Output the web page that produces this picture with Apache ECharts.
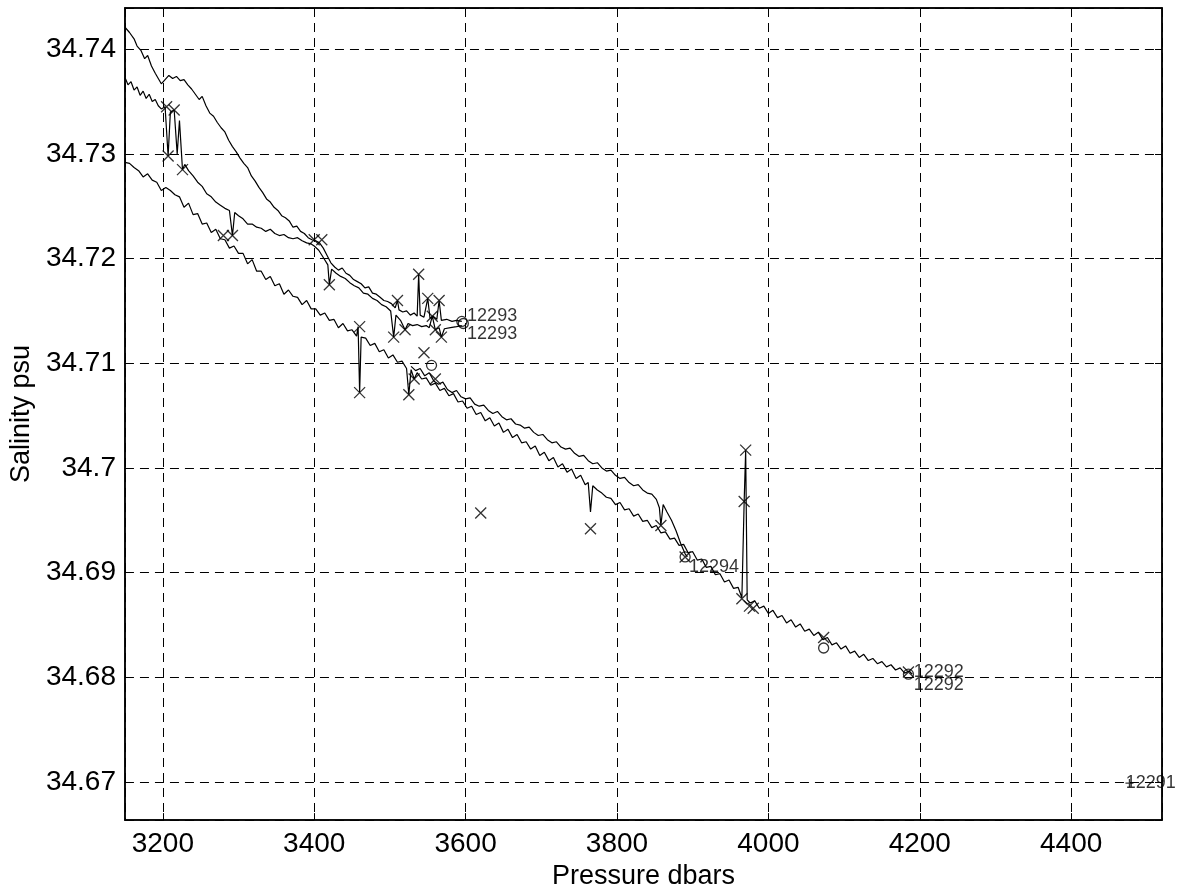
<!DOCTYPE html>
<html>
<head>
<meta charset="utf-8">
<script src="https://cdn.jsdelivr.net/npm/echarts@6/dist/echarts.min.js"></script>
<style>html,body{margin:0;padding:0;background:#fff;}#c{width:1182px;height:895px;}</style>
</head>
<body>
<div id="c"></div>
<script>
// ---- data (pressure dbar, salinity psu) ----
const line12293a = [[3150,34.7421],[3156,34.7416],[3162,34.7410],[3166,34.7403],[3171,34.7399],[3176,34.7391],[3180,34.7394],[3185,34.7384],[3190,34.7377],[3194,34.7372],[3198,34.7367],[3203,34.7371],[3208,34.7375],[3213,34.7372],[3218,34.7374],[3223,34.7370],[3228,34.7371],[3233,34.7366],[3238,34.7362],[3243,34.7357],[3248,34.7352],[3252,34.7355],[3257,34.7346],[3262,34.7339],[3267,34.7336],[3272,34.7330],[3277,34.7325],[3282,34.7321],[3287,34.7313],[3292,34.7307],[3297,34.7302],[3302,34.7296],[3307,34.7291],[3312,34.7287],[3317,34.7279],[3322,34.7274],[3327,34.7268],[3332,34.7263],[3337,34.7257],[3342,34.7254],[3347,34.7249],[3352,34.7246],[3357,34.7241],[3362,34.7239],[3367,34.7236],[3372,34.7230],[3377,34.7231],[3382,34.7226],[3387,34.7224],[3392,34.7220],[3397,34.7218],[3402,34.7217],[3407,34.7215],[3412,34.7210],[3417,34.7203],[3422,34.7196],[3427,34.7192],[3432,34.7189],[3437,34.7191],[3442,34.7186],[3447,34.7184],[3452,34.7180],[3457,34.7178],[3462,34.7176],[3467,34.7172],[3472,34.7173],[3477,34.7167],[3482,34.7166],[3487,34.7163],[3492,34.7160],[3497,34.7159],[3502,34.7157],[3507,34.7153],[3510,34.7160],[3512,34.7151],[3517,34.7149],[3522,34.7150],[3527,34.7146],[3532,34.7148],[3536,34.7145],[3538,34.7185],[3540,34.7146],[3545,34.7144],[3550,34.7162],[3553,34.7143],[3557,34.7145],[3562,34.7142],[3565,34.7160],[3568,34.7141],[3575,34.7142],[3582,34.7140],[3588,34.7141],[3595,34.7140]];
const line12293b = [[3150,34.7373],[3154,34.7366],[3158,34.7369],[3162,34.7361],[3166,34.7364],[3170,34.7356],[3174,34.7360],[3178,34.7353],[3182,34.7357],[3186,34.7350],[3190,34.7352],[3194,34.7346],[3198,34.7343],[3203,34.7345],[3207,34.7298],[3210,34.7340],[3215,34.7342],[3219,34.7300],[3222,34.7332],[3226,34.7285],[3229,34.7290],[3234,34.7284],[3240,34.7279],[3246,34.7273],[3252,34.7269],[3258,34.7262],[3264,34.7259],[3270,34.7254],[3276,34.7251],[3282,34.7248],[3288,34.7246],[3292,34.7222],[3295,34.7244],[3300,34.7241],[3306,34.7238],[3312,34.7233],[3318,34.7233],[3324,34.7230],[3330,34.7229],[3336,34.7226],[3342,34.7228],[3348,34.7224],[3354,34.7222],[3360,34.7223],[3366,34.7220],[3372,34.7219],[3378,34.7220],[3384,34.7217],[3390,34.7215],[3396,34.7214],[3400,34.7212],[3406,34.7208],[3412,34.7201],[3418,34.7194],[3420,34.7175],[3423,34.7190],[3429,34.7186],[3435,34.7183],[3441,34.7181],[3447,34.7177],[3453,34.7174],[3459,34.7172],[3465,34.7167],[3471,34.7166],[3477,34.7162],[3483,34.7160],[3489,34.7156],[3495,34.7154],[3501,34.7150],[3505,34.7125],[3508,34.7146],[3514,34.7141],[3520,34.7132],[3524,34.7138],[3530,34.7136],[3536,34.7137],[3542,34.7135],[3548,34.7136],[3552,34.7134],[3556,34.7145],[3560,34.7132],[3565,34.7134],[3568,34.7125],[3572,34.7133],[3580,34.7134],[3588,34.7135],[3595,34.7136]];
const line12292 = [[3150,34.7292],[3156,34.7291],[3162,34.7287],[3168,34.7284],[3174,34.7278],[3180,34.7281],[3186,34.7275],[3192,34.7273],[3198,34.7265],[3204,34.7268],[3210,34.7265],[3216,34.7261],[3222,34.7259],[3228,34.7249],[3234,34.7253],[3240,34.7242],[3246,34.7243],[3252,34.7233],[3258,34.7234],[3264,34.7225],[3270,34.7228],[3276,34.7219],[3282,34.7218],[3288,34.7210],[3294,34.7212],[3300,34.7205],[3306,34.7205],[3312,34.7195],[3318,34.7199],[3324,34.7188],[3330,34.7188],[3336,34.7180],[3342,34.7183],[3348,34.7174],[3354,34.7176],[3360,34.7166],[3366,34.7170],[3372,34.7164],[3378,34.7163],[3384,34.7156],[3390,34.7160],[3396,34.7152],[3402,34.7152],[3408,34.7146],[3414,34.7148],[3420,34.7141],[3426,34.7142],[3432,34.7134],[3438,34.7138],[3444,34.7131],[3450,34.7132],[3456,34.7126],[3458,34.7135],[3460,34.7072],[3462,34.7125],[3468,34.7124],[3474,34.7117],[3480,34.7119],[3486,34.7111],[3492,34.7113],[3498,34.7105],[3504,34.7108],[3510,34.7101],[3516,34.7102],[3522,34.7095],[3525,34.7070],[3528,34.7094],[3532,34.7085],[3536,34.7091],[3542,34.7085],[3548,34.7086],[3554,34.7079],[3560,34.7081],[3566,34.7074],[3572,34.7076],[3578,34.7069],[3584,34.7071],[3590,34.7063],[3596,34.7064],[3602,34.7057],[3608,34.7059],[3614,34.7051],[3620,34.7053],[3626,34.7045],[3632,34.7048],[3638,34.7040],[3644,34.7043],[3650,34.7034],[3656,34.7037],[3662,34.7029],[3668,34.7032],[3674,34.7024],[3680,34.7025],[3686,34.7018],[3692,34.7021],[3698,34.7012],[3704,34.7015],[3710,34.7007],[3716,34.7010],[3722,34.7001],[3728,34.7004],[3734,34.6996],[3740,34.6999],[3746,34.6990],[3752,34.6993],[3758,34.6984],[3762,34.6986],[3765,34.6958],[3768,34.6983],[3774,34.6979],[3780,34.6976],[3786,34.6972],[3792,34.6971],[3798,34.6965],[3804,34.6967],[3810,34.6960],[3816,34.6961],[3822,34.6954],[3828,34.6956],[3834,34.6949],[3840,34.6950],[3846,34.6943],[3852,34.6945],[3858,34.6938],[3864,34.6939],[3870,34.6932],[3876,34.6933],[3882,34.6926],[3888,34.6927],[3894,34.6919],[3900,34.6920],[3906,34.6912],[3912,34.6913],[3918,34.6905],[3924,34.6906],[3930,34.6898],[3936,34.6899],[3942,34.6891],[3948,34.6893],[3954,34.6885],[3960,34.6886],[3965,34.6876],[3968,34.6968],[3970,34.7017],[3972,34.6874],[3976,34.6871],[3982,34.6873],[3988,34.6866],[3994,34.6868],[4000,34.6861],[4006,34.6864],[4012,34.6857],[4018,34.6859],[4024,34.6852],[4030,34.6855],[4036,34.6848],[4042,34.6851],[4048,34.6844],[4054,34.6846],[4060,34.6840],[4066,34.6843],[4072,34.6836],[4078,34.6838],[4084,34.6831],[4090,34.6833],[4096,34.6827],[4102,34.6830],[4108,34.6823],[4114,34.6825],[4120,34.6819],[4126,34.6822],[4132,34.6816],[4138,34.6818],[4144,34.6813],[4150,34.6815],[4156,34.6810],[4162,34.6812],[4168,34.6807],[4174,34.6809],[4180,34.6804],[4186,34.6806],[4190,34.6803]];
const line12294 = [[3528,34.7097],[3534,34.7093],[3540,34.7095],[3546,34.7088],[3552,34.7091],[3558,34.7083],[3564,34.7080],[3570,34.7082],[3576,34.7075],[3582,34.7072],[3588,34.7074],[3594,34.7068],[3600,34.7066],[3606,34.7067],[3612,34.7061],[3618,34.7059],[3624,34.7060],[3630,34.7055],[3636,34.7052],[3642,34.7054],[3648,34.7049],[3654,34.7046],[3660,34.7047],[3666,34.7042],[3672,34.7041],[3678,34.7038],[3684,34.7039],[3690,34.7034],[3696,34.7031],[3702,34.7032],[3708,34.7027],[3714,34.7024],[3720,34.7025],[3726,34.7020],[3732,34.7018],[3738,34.7019],[3744,34.7014],[3750,34.7011],[3756,34.7012],[3762,34.7007],[3768,34.7004],[3774,34.7005],[3780,34.7000],[3786,34.6997],[3792,34.6998],[3798,34.6993],[3804,34.6990],[3810,34.6991],[3816,34.6986],[3822,34.6983],[3828,34.6984],[3834,34.6979],[3840,34.6976],[3846,34.6975],[3852,34.6970],[3856,34.6962],[3858,34.6945],[3861,34.6965],[3866,34.6958],[3872,34.6950],[3878,34.6940],[3884,34.6928],[3890,34.6918],[3893,34.6915]];
const crossMarks = [[3205,34.7345],[3207,34.7298],[3215,34.7342],[3226,34.7285],[3280,34.7222],[3292,34.7222],[3400,34.7218],[3410,34.7218],[3420,34.7175],[3460,34.7135],[3460,34.7072],[3505,34.7125],[3510,34.7160],[3520,34.7132],[3525,34.7070],[3532,34.7085],[3538,34.7185],[3545,34.7110],[3550,34.7162],[3556,34.7145],[3560,34.7132],[3565,34.7160],[3568,34.7125],[3560,34.7085],[3620,34.6957],[3765,34.6942],[3858,34.6945],[3890,34.6915],[3965,34.6875],[3968,34.6968],[3970,34.7017],[3975,34.6868],[3980,34.6866],[4073,34.6838],[4185,34.6805]];
const circleMarks = [[3555,34.7098],[3595,34.7140],[3597,34.7138],[3890,34.6915],[4073,34.6828],[4185,34.6803]];
const plusMarks = [[4477,34.6699]];
const castLabels = [["12293",3600,34.7145],["12293",3600,34.7128],["12294",3893,34.6905],["12292",4190,34.6805],["12292",4190,34.6793],["12291",4470,34.6699]];
const xRange = [3150, 4520];
const yRange = [34.66636, 34.74394];

const chart = echarts.init(document.getElementById('c'));
const FONT = '"Liberation Sans", Arial, sans-serif';
const lineSeries = [line12293a, line12293b, line12292, line12294].map(d => ({
  type: 'line', data: d, showSymbol: false, symbol: 'none', animation: false,
  lineStyle: {color: '#000', width: 1.2}, z: 3
}));
const axisCommon = {
  type: 'value', scale: true, splitNumber: 7,
  axisLine: {show: true, lineStyle: {color: '#000', width: 1.5}},
  axisTick: {show: true, inside: true, length: 7, lineStyle: {color: '#000'}},
};
const fmt = v => String(Math.round(v * 1000) / 1000);
const markStyle = {color: 'rgba(0,0,0,0)', borderColor: '#000', borderWidth: 1.3};
chart.setOption({
  backgroundColor: '#fff',
  animation: false,
  grid: {left: 120, right: 20, top: 8, bottom: 70, show: true, borderColor: '#000', borderWidth: 1.5, containLabel: false},
  xAxis: [
    Object.assign({}, axisCommon, {
      min: xRange[0], max: xRange[1], position: 'bottom',
      name: 'Pressure dbars', nameLocation: 'middle', nameGap: 42,
      nameTextStyle: {fontFamily: FONT, fontSize: 27, color: '#000'},
      axisLabel: {fontFamily: FONT, fontSize: 28, color: '#000', margin: 10, formatter: fmt, showMinLabel: false, showMaxLabel: false},
      splitLine: {show: true, lineStyle: {color: '#000', type: [9, 6], width: 1}}
    }),
    Object.assign({}, axisCommon, {
      min: xRange[0], max: xRange[1], position: 'top',
      axisLabel: {show: false}, splitLine: {show: false}
    })
  ],
  yAxis: [
    Object.assign({}, axisCommon, {
      min: yRange[0], max: yRange[1], position: 'left',
      name: 'Salinity psu', nameLocation: 'middle', nameGap: 84, nameRotate: 90,
      nameTextStyle: {fontFamily: FONT, fontSize: 27, color: '#000'},
      axisLabel: {fontFamily: FONT, fontSize: 28, color: '#000', margin: 9, formatter: fmt, showMinLabel: false, showMaxLabel: false},
      splitLine: {show: true, lineStyle: {color: '#000', type: [9, 6], width: 1}}
    }),
    Object.assign({}, axisCommon, {
      min: yRange[0], max: yRange[1], position: 'right',
      axisLabel: {show: false}, splitLine: {show: false}
    })
  ],
  series: lineSeries.concat([
    {type: 'scatter', data: crossMarks, symbol: 'path://M0,0L10,10M10,0L0,10', symbolSize: 11,
     itemStyle: markStyle, z: 4, animation: false},
    {type: 'scatter', data: circleMarks, symbol: 'circle', symbolSize: 10,
     itemStyle: markStyle, z: 4, animation: false},
    {type: 'scatter', data: plusMarks, symbol: 'path://M5,0L5,10M0,5L10,5', symbolSize: 8,
     itemStyle: markStyle, z: 4, animation: false},
    {type: 'scatter', data: castLabels.map(l => ({name: l[0], value: [l[1], l[2]]})), symbolSize: 1,
     itemStyle: {color: 'rgba(0,0,0,0)'}, z: 5, animation: false,
     label: {show: true, position: 'right', distance: 1, formatter: '{b}', fontFamily: FONT, fontSize: 18, color: '#000'}}
  ])
});
</script>
</body>
</html>
